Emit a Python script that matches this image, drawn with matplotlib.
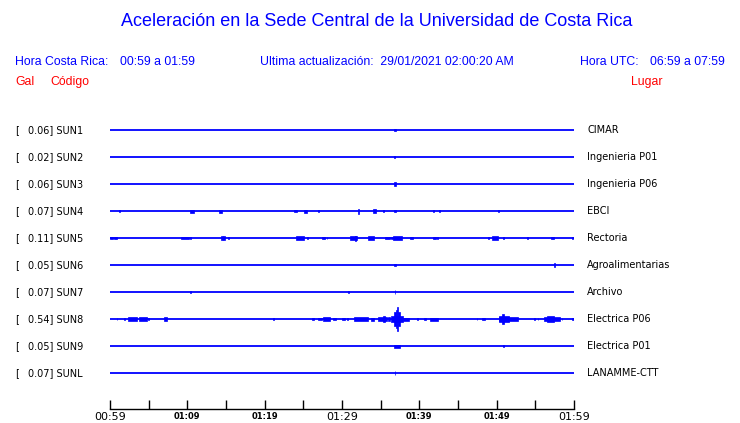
import matplotlib
matplotlib.use('Agg')
import matplotlib.pyplot as plt
from matplotlib.transforms import blended_transform_factory

# Station info (top to bottom)
codes = ['SUN1', 'SUN2', 'SUN3', 'SUN4', 'SUN5', 'SUN6', 'SUN7', 'SUN8', 'SUN9', 'SUNL']
gal = [0.06, 0.02, 0.06, 0.07, 0.11, 0.05, 0.07, 0.54, 0.05, 0.07]
places = ['CIMAR', 'Ingenieria P01', 'Ingenieria P06', 'EBCI', 'Rectoria',
          'Agroalimentarias', 'Archivo', 'Electrica P06', 'Electrica P01', 'LANAMME-CTT']

# Time axis: minutes after 00:59 (local time)
tick_minutes = [0, 5, 10, 15, 20, 25, 30, 35, 40, 45, 50, 55, 60]
tick_labels = ['00:59', '', '01:09', '', '01:19', '', '01:29', '', '01:39', '', '01:49', '', '01:59']
big_labels = ['00:59', '01:29', '01:59']

# Bursts: (start minute, end minute, half amplitude relative to row spacing)
sun1 = [(36.75, 36.95, 0.05)]
sun2 = [(36.75, 36.85, 0.035)]
sun3 = [(36.75, 36.95, 0.06)]
sun4 = [(1.2, 1.3, 0.05), (10.3, 10.85, 0.055), (14.1, 14.45, 0.055), (23.85, 24.2, 0.04),
        (25.1, 25.45, 0.055), (26.9, 26.98, 0.03), (32.05, 32.15, 0.09), (34.05, 34.35, 0.06),
        (35.35, 35.45, 0.05), (36.75, 36.95, 0.05), (41.8, 41.85, 0.035), (42.55, 42.62, 0.05),
        (50.2, 50.25, 0.05)]
sun5 = [(0.05, 0.35, 0.05), (0.5, 0.9, 0.05), (9.2, 10.2, 0.05), (10.4, 10.5, 0.05),
        (14.35, 14.85, 0.06), (14.6, 14.65, 0.08), (15.3, 15.4, 0.05), (24.05, 25.1, 0.06),
        (25.5, 25.55, 0.035), (27.35, 27.8, 0.05), (28.0, 28.05, 0.05), (31.0, 31.9, 0.06),
        (31.7, 31.8, 0.09), (33.3, 34.1, 0.08), (35.55, 36.2, 0.05), (36.4, 36.6, 0.05),
        (36.65, 37.7, 0.085), (38.8, 39.15, 0.05), (41.8, 42.15, 0.05), (42.3, 42.36, 0.05),
        (48.9, 48.95, 0.035), (49.35, 50.15, 0.07), (50.85, 50.9, 0.035), (53.95, 54.05, 0.05),
        (57.05, 57.4, 0.05), (59.8, 59.85, 0.05)]
sun6 = [(36.75, 36.95, 0.05), (57.43, 57.5, 0.06)]
sun7 = [(10.4, 10.46, 0.035), (30.8, 30.86, 0.05), (36.8, 36.88, 0.06)]
sun8 = [(0.85, 0.9, 0.035), (1.83, 1.88, 0.035), (2.3, 3.45, 0.06), (3.75, 4.78, 0.06),
        (4.95, 5.0, 0.045), (7.0, 7.33, 0.06), (21.1, 21.15, 0.035), (26.15, 26.4, 0.045),
        (26.95, 27.35, 0.05), (27.6, 28.5, 0.065), (28.9, 29.2, 0.05), (30.05, 30.45, 0.05),
        (30.68, 30.72, 0.045), (31.6, 33.4, 0.06), (33.75, 34.1, 0.055), (34.7, 35.8, 0.075),
        (35.3, 35.6, 0.12), (35.9, 36.2, 0.06), (36.4, 37.95, 0.1), (36.7, 37.0, 0.25),
        (37.0, 37.1, 0.32), (37.1, 37.25, 0.45), (37.25, 37.5, 0.25), (37.95, 38.6, 0.055),
        (39.75, 39.8, 0.045), (40.65, 40.82, 0.045), (41.4, 42.45, 0.055), (47.48, 47.52, 0.035),
        (48.05, 48.55, 0.05), (50.3, 52.8, 0.06), (50.35, 51.6, 0.12), (50.75, 51.0, 0.2),
        (54.85, 54.9, 0.035), (55.3, 55.35, 0.045), (56.15, 58.2, 0.06), (56.5, 57.4, 0.11),
        (58.4, 58.45, 0.045), (59.8, 60.0, 0.05)]
sun9 = [(36.75, 37.5, 0.055), (50.88, 50.93, 0.045)]
sunl = [(36.8, 36.9, 0.07)]
bursts = [sun1, sun2, sun3, sun4, sun5, sun6, sun7, sun8, sun9, sunl]

BLUE = '#0000ff'
RED = '#ff0000'
HEAD = ['Liberation Sans', 'DejaVu Sans']

fig = plt.figure(figsize=(7.4, 4.23), dpi=100)
W, H = 740, 423
# axes spans 00:59 (x=110px) to 01:59 (x=574px), bottom line at y=409px
ax = fig.add_axes([110 / W, (H - 409) / H, 464 / W, (409 - 105) / H])
ax.set_xlim(0, 60)
ax.set_ylim(-10.33, 0.93)

for i, code in enumerate(codes):
    y = -i
    ax.hlines(y, 0, 60, color=BLUE, lw=1.3)
    for t0, t1, a in bursts[i]:
        ax.bar(t0, 2 * a, width=t1 - t0, bottom=y - a, align='edge',
               color=BLUE, edgecolor=BLUE, linewidth=0.5)

for s in ['top', 'left', 'right']:
    ax.spines[s].set_visible(False)
ax.spines['bottom'].set_linewidth(1.0)
ax.set_yticks([])
ax.set_xticks(tick_minutes)
ax.set_xticklabels(tick_labels)
ax.tick_params(axis='x', direction='in', length=6.5, width=1.0, pad=2)
for lab in ax.get_xticklabels():
    if lab.get_text() in big_labels:
        lab.set_fontsize(8)
    else:
        lab.set_fontsize(6)
        lab.set_fontweight('bold')

# station labels
tr = blended_transform_factory(fig.transFigure, ax.transData)
for i, code in enumerate(codes):
    y = -i
    ax.text(15 / W, y, '[', transform=tr, fontsize=7, va='center', ha='left')
    ax.text(28 / W, y, f'{gal[i]:.2f}] {code}', transform=tr, fontsize=7, va='center', ha='left')
    ax.text(587 / W, y, places[i], transform=tr, fontsize=7, va='center', ha='left')

# header
fig.text(377 / W, 1 - 22 / H, 'Aceleración en la Sede Central de la Universidad de Costa Rica',
         family=HEAD, fontsize=13, color=BLUE, ha='center', va='center')
fig.text(15 / W, 1 - 64.5 / H, 'Hora Costa Rica:', family=HEAD, fontsize=8.8, color=BLUE, va='baseline')
fig.text(120 / W, 1 - 64.5 / H, '00:59 a 01:59', family=HEAD, fontsize=8.8, color=BLUE, va='baseline')
fig.text(260.5 / W, 1 - 64.5 / H, 'Ultima actualización:  29/01/2021 02:00:20 AM',
         family=HEAD, fontsize=8.8, color=BLUE, va='baseline')
fig.text(580.5 / W, 1 - 64.5 / H, 'Hora UTC:', family=HEAD, fontsize=8.8, color=BLUE, va='baseline')
fig.text(650 / W, 1 - 64.5 / H, '06:59 a 07:59', family=HEAD, fontsize=8.8, color=BLUE, va='baseline')
fig.text(15 / W, 1 - 85 / H, 'Gal', family=HEAD, fontsize=8.8, color=RED, va='baseline')
fig.text(50 / W, 1 - 85 / H, 'Código', family=HEAD, fontsize=8.8, color=RED, va='baseline')
fig.text(631 / W, 1 - 85 / H, 'Lugar', family=HEAD, fontsize=8.8, color=RED, va='baseline')

fig.savefig('out.png', dpi=100)
